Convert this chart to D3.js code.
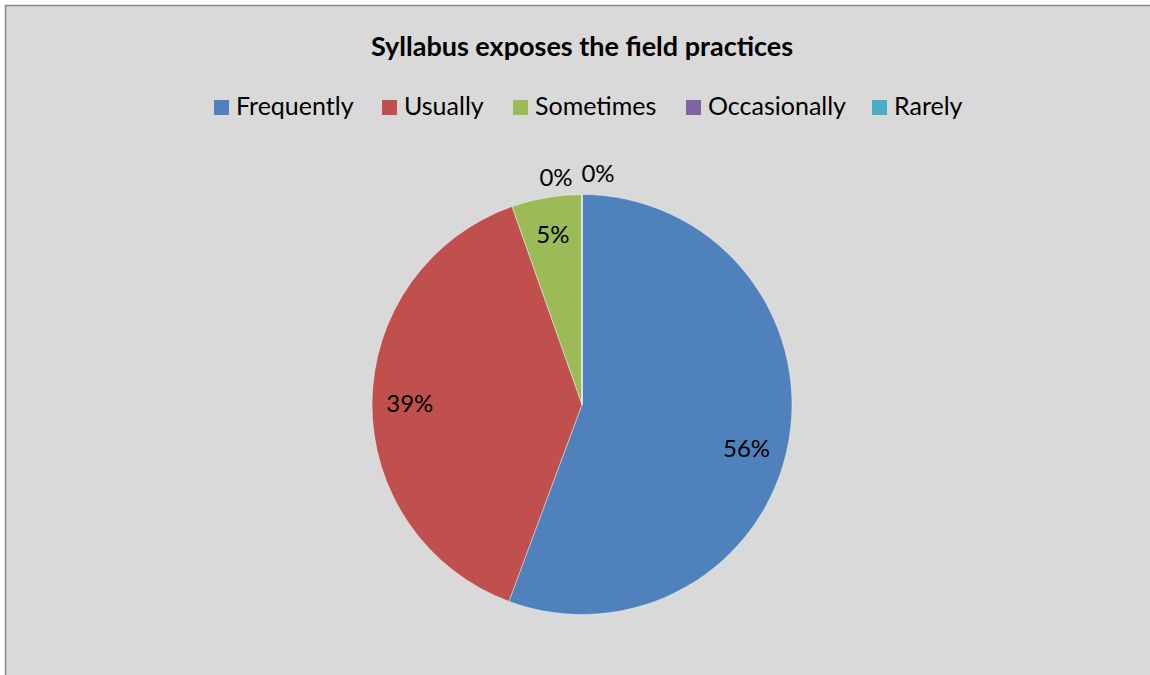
<!DOCTYPE html>
<html><head><meta charset="utf-8">
<script src="https://cdn.jsdelivr.net/npm/d3@7/dist/d3.min.js"></script>
<style>html,body{margin:0;padding:0;background:#fff;}svg{display:block;}</style>
</head><body>
<svg id="chart" width="1150" height="675"></svg>
<script>
const title = "Syllabus exposes the field practices";
const categories = ["Frequently", "Usually", "Sometimes", "Occasionally", "Rarely"];
const values = [55.6, 38.9, 5.4, 0, 0];
const colors = ["#4F81BD", "#C0504D", "#9BBB59", "#8064A2", "#4BACC6"];

const W = 1150, H = 675;
const svg = d3.select("#chart");
const font = "Lato, 'Open Sans', sans-serif";

svg.append("rect").attr("x", 5.5).attr("y", 5.5).attr("width", W + 10).attr("height", H + 10)
  .attr("fill", "#D9D9D9").attr("stroke", "#868686").attr("stroke-width", 1.5);

svg.append("text").attr("x", 582).attr("y", 56).attr("text-anchor", "middle")
  .attr("font-family", font).attr("font-weight", "bold").attr("font-size", 27)
  .attr("fill", "#000").text(title);

// legend
const legendX = [214, 382, 513, 686, 872];
const lg = svg.append("g");
categories.forEach((c, i) => {
  const g = lg.append("g").attr("transform", `translate(${legendX[i]},0)`);
  g.append("rect").attr("x", 0).attr("y", 100).attr("width", 15).attr("height", 15).attr("fill", colors[i]);
  g.append("text").attr("x", 22).attr("y", 115).attr("font-family", font).attr("font-size", 25)
    .attr("fill", "#000").text(c);
});

const cx = 582, cy = 404.5, r = 210;
const total = d3.sum(values);
const pie = d3.pie().sort(null).value(d => d)(values);
const arc = d3.arc().innerRadius(0).outerRadius(r);
const labelArc = d3.arc().innerRadius(r * 0.82).outerRadius(r * 0.82);
const outArc = d3.arc().innerRadius(r * 1.1).outerRadius(r * 1.1);

const g = svg.append("g").attr("transform", `translate(${cx},${cy})`);
g.selectAll("path").data(pie).join("path")
  .attr("d", arc).attr("fill", (d, i) => colors[i])
  .attr("stroke", "#fff").attr("stroke-opacity", 0.5).attr("stroke-width", 0.8);

let zeroIdx = 0;
g.selectAll("text.lbl").data(pie).join("text").attr("class", "lbl")
  .attr("transform", (d, i) => {
    if (d.value === 0) {
      const p = outArc.centroid(d);
      const off = zeroIdx++ === 0 ? -26 : 16;
      return `translate(${p[0] + off},${p[1] + (off < 0 ? 4 : 0)})`;
    }
    const p = labelArc.centroid(d);
    // Excel's best-fit nudges the large slice label slightly downward
    const dyAdj = i === 0 ? 14 : 0;
    const dxAdj = i === 0 ? -5 : 0;
    return `translate(${p[0] + dxAdj},${p[1] + dyAdj})`;
  })
  .attr("text-anchor", "middle").attr("dy", "0.35em")
  .attr("font-family", font).attr("font-size", 24).attr("fill", "#000")
  .text(d => Math.round(d.value / total * 100) + "%");
</script>
</body></html>
